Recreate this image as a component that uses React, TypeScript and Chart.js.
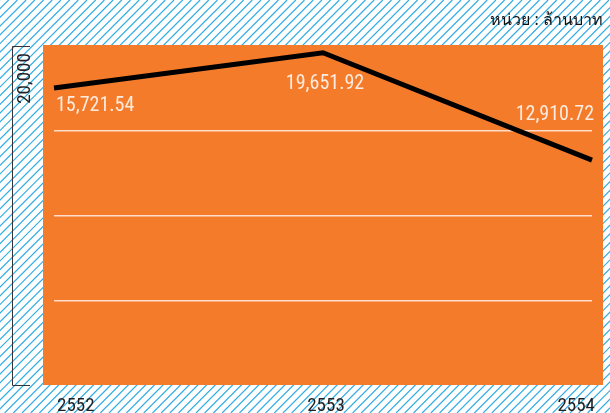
import React, { useEffect, useRef } from "react";
import { Chart, registerables } from "chart.js";

Chart.register(...registerables);

// ---- data ----
const categories = ["2552", "2553", "2554"];
// values as drawn by the line in the picture
const lineValues = [17520, 19600, 13270];
// values printed as data labels
const labelValues = [15721.54, 19651.92, 12910.72];
const yMin = 0;
const yMax = 20000;
const yStep = 5000;
const yAxisLabel = "20,000";
const unitText = "หน่วย : ล้านบาท";

const FONT = '"Liberation Sans Narrow", "Roboto Condensed", Roboto, sans-serif';

const decorPlugin = {
  id: "decor",
  beforeDraw(chart: any) {
    const { ctx, width, height, chartArea } = chart;
    ctx.save();
    ctx.fillStyle = "#ffffff";
    ctx.fillRect(0, 0, width, height);
    // hatch
    ctx.strokeStyle = "#33ade3";
    ctx.lineWidth = 1.2;
    const sp = 8.7;
    ctx.beginPath();
    for (let k = -height; k < width + height; k += sp) {
      ctx.moveTo(k, height);
      ctx.lineTo(k + height, 0);
    }
    ctx.stroke();
    // orange panel
    ctx.fillStyle = "#f47b2a";
    ctx.fillRect(chartArea.left - 11, chartArea.top - 1, chartArea.right - chartArea.left + 22, chartArea.bottom - chartArea.top + 1);
    ctx.restore();
  },
  afterDatasetsDraw(chart: any) {
    const { ctx, chartArea } = chart;
    const yScale = chart.scales.y;
    const meta = chart.getDatasetMeta(0);
    ctx.save();
    // data labels
    ctx.font = `20px ${FONT}`;
    ctx.fillStyle = "#fdebdf";
    ctx.textBaseline = "middle";
    const aligns = ["left", "center", "right"];
    const dx = [2, 2, 2];
    const dy = [18, 31, -45];
    meta.data.forEach((pt: any, i: number) => {
      ctx.textAlign = aligns[i];
      const txt = labelValues[i].toLocaleString("en-US", { minimumFractionDigits: 2, maximumFractionDigits: 2 });
      ctx.fillText(txt, pt.x + dx[i], pt.y + dy[i]);
    });
    // axis bracket
    const yTop = Math.round(yScale.getPixelForValue(yMax)) + 0.5;
    const yBot = Math.round(yScale.getPixelForValue(yMin)) + 0.5;
    ctx.strokeStyle = "#333333";
    ctx.lineWidth = 1;
    ctx.beginPath();
    ctx.moveTo(30, yTop);
    ctx.lineTo(12.5, yTop);
    ctx.lineTo(12.5, yBot);
    ctx.lineTo(30, yBot);
    ctx.stroke();
    // rotated y label
    ctx.save();
    ctx.translate(30, yTop + 32);
    ctx.rotate(-Math.PI / 2);
    ctx.textAlign = "center";
    ctx.textBaseline = "alphabetic";
    ctx.fillStyle = "#231f20";
    ctx.font = `19px ${FONT}`;
    ctx.fillText(yAxisLabel, 0, 0);
    ctx.restore();
    // unit title
    ctx.textAlign = "right";
    ctx.textBaseline = "alphabetic";
    ctx.fillStyle = "#111111";
    ctx.font = `16px "Noto Sans", "DejaVu Sans", sans-serif`;
    ctx.fillText(unitText, chartArea.right + 11, 25);
    ctx.restore();
  },
};

export default function App() {
  const ref = useRef<HTMLCanvasElement | null>(null);
  useEffect(() => {
    document.body.style.margin = "0";
    const chart = new Chart(ref.current!, {
      type: "line",
      data: {
        labels: categories,
        datasets: [
          {
            data: lineValues,
            borderColor: "#000000",
            borderWidth: 5,
            pointRadius: 0,
            tension: 0,
            fill: false,
          },
        ],
      },
      options: {
        animation: false,
        responsive: false,
        devicePixelRatio: 1,
        layout: { padding: { left: 54, right: 18, top: 46, bottom: -15 } },
        plugins: { legend: { display: false }, tooltip: { enabled: false }, title: { display: false } },
        scales: {
          x: {
            offset: false,
            grid: { display: false, drawTicks: false },
            border: { display: false },
            ticks: {
              align: "inner",
              padding: 12,
              labelOffset: 3,
              color: "#231f20",
              font: { family: FONT, size: 19, lineHeight: 1 },
              maxRotation: 0,
            },
          },
          y: {
            min: yMin,
            max: yMax,
            border: { display: false },
            grid: {
              drawTicks: false,
              lineWidth: 1.5,
              color: (c: any) =>
                c.tick && c.tick.value > yMin && c.tick.value < yMax ? "rgba(255,240,230,0.85)" : "rgba(0,0,0,0)",
            },
            ticks: { display: false, stepSize: yStep },
          },
        },
      },
      plugins: [decorPlugin],
    } as any);
    return () => chart.destroy();
  }, []);
  return (
    <div style={{ position: "absolute", left: 0, top: 0, width: 610, height: 413 }}>
      <canvas ref={ref} width={610} height={413} style={{ display: "block" }} />
    </div>
  );
}
